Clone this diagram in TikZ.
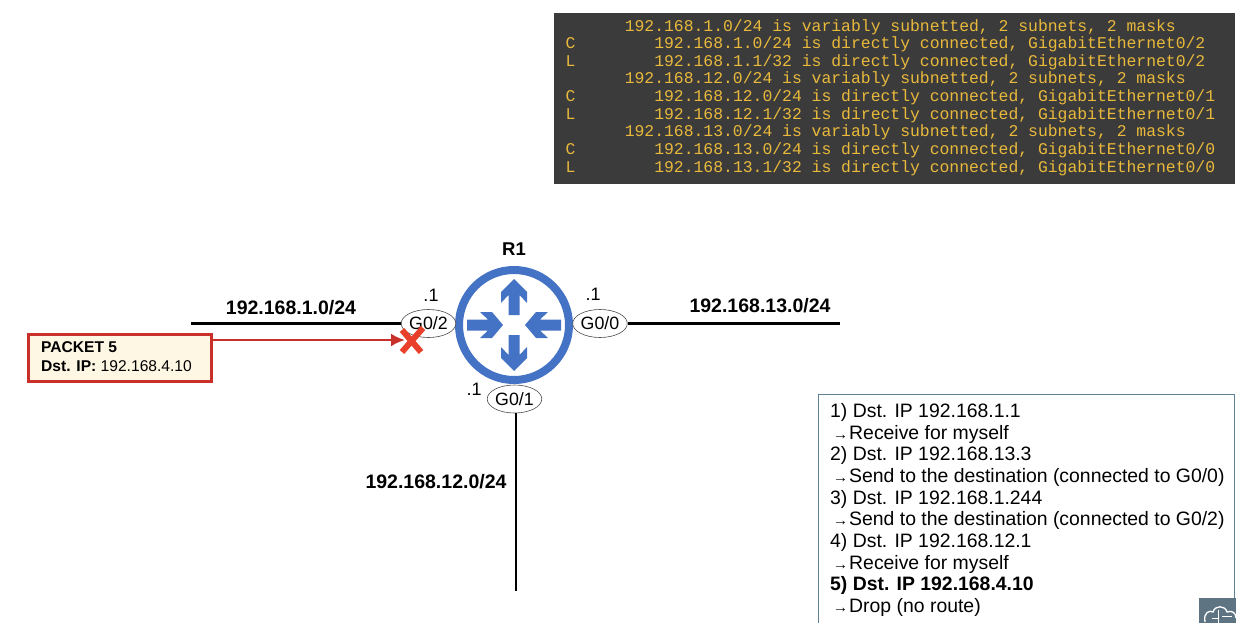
\documentclass[tikz,border=0pt]{standalone}
\usepackage{fontspec}
\setmainfont{Liberation Sans}
\setmonofont{Liberation Mono}
\usepackage{xcolor}
\usetikzlibrary{shapes.geometric,arrows.meta}
\definecolor{routerblue}{HTML}{4472C4}
\definecolor{consolebg}{HTML}{3B3B3B}
\definecolor{consoletext}{HTML}{E9B93C}
\definecolor{packetred}{HTML}{C9302A}
\definecolor{crossred}{HTML}{E8402A}
\definecolor{packetbg}{HTML}{FDF7E3}
\definecolor{noteline}{HTML}{5F7F95}
\definecolor{logobg}{HTML}{5F7482}
\tikzset{
  netlabel/.style={font=\fontsize{19.5}{22}\selectfont\bfseries, inner sep=0pt},
  iplabel/.style={font=\fontsize{18}{20}\selectfont, inner sep=0pt},
  portlabel/.style={ellipse, draw=black!70, line width=0.6pt, fill=white, minimum width=54pt, minimum height=28pt, inner sep=0pt, font=\fontsize{17.8}{20}\selectfont},
  netline/.style={line width=2.1pt, black},
}
\newcommand{\noteto}{\hspace*{3pt}{\fontsize{15}{15}\selectfont →}\hspace*{1pt}}
\begin{document}
\begin{tikzpicture}[x=1pt,y=-1pt]
\clip (0,0) rectangle (1236,623);
\fill[white] (0,0) rectangle (1236,623);
\node (console) at (554,13) [anchor=north west, fill=consolebg, minimum width=681pt, minimum height=171pt, inner sep=0pt] {};
\node (routes) at (565.5,97.4) [anchor=west, inner sep=0pt, align=left, text=consoletext, font=\ttfamily\fontsize{16.4}{17.65}\selectfont] {%
~~~~~~192.168.1.0/24 is variably subnetted, 2 subnets, 2 masks\\
C~~~~~~~~192.168.1.0/24 is directly connected, GigabitEthernet0/2\\
L~~~~~~~~192.168.1.1/32 is directly connected, GigabitEthernet0/2\\
~~~~~~192.168.12.0/24 is variably subnetted, 2 subnets, 2 masks\\
C~~~~~~~~192.168.12.0/24 is directly connected, GigabitEthernet0/1\\
L~~~~~~~~192.168.12.1/32 is directly connected, GigabitEthernet0/1\\
~~~~~~192.168.13.0/24 is variably subnetted, 2 subnets, 2 masks\\
C~~~~~~~~192.168.13.0/24 is directly connected, GigabitEthernet0/0\\
L~~~~~~~~192.168.13.1/32 is directly connected, GigabitEthernet0/0};
\node (router) at (514,325) [circle, draw=routerblue, line width=8pt, fill=white, minimum size=110pt, inner sep=0pt] {};
\foreach \a in {0,180}
  \fill[routerblue, shift={(router.center)}, rotate=\a] (-5.5,-10) -- (-5.5,-30) -- (-13,-22) -- (-13,-33) -- (0,-46) -- (13,-33) -- (13,-22) -- (5.5,-30) -- (5.5,-10) -- cycle;
\foreach \a in {90,270}
  \fill[routerblue, shift={(router.center)}, rotate=\a] (-5.5,-47) -- (-5.5,-26) -- (-13,-34) -- (-13,-22) -- (0,-11) -- (13,-22) -- (13,-34) -- (5.5,-26) -- (5.5,-47) -- cycle;
\node (r1) at (514,249.5) [inner sep=0pt, font=\fontsize{18.5}{20}\selectfont\bfseries] {R1};
\node (g02) at (428.5,323.5) [portlabel] {G0/2};
\node (g00) at (600,323.5) [portlabel] {G0/0};
\node (g01) at (514.5,399) [portlabel] {G0/1};
\node (dot02) at (431,295) [iplabel] {.1};
\node (dot00) at (593,294) [iplabel] {.1};
\node (dot01) at (474,389) [iplabel] {.1};
\coordinate (lan1end) at (191,323.5);
\coordinate (lan13end) at (840,323.5);
\coordinate (lan12end) at (516,591);
\draw[netline] (lan1end) -- (g02.west);
\draw[netline] (g00.east) -- (lan13end);
\draw[netline] (g01.south -| lan12end) -- (lan12end);
\node (lan1) at (291,307.5) [netlabel] {192.168.1.0/24};
\node (lan13) at (760,306) [netlabel] {192.168.13.0/24};
\node (lan12) at (436,481.5) [netlabel] {192.168.12.0/24};
\node (packet) at (27,333) [anchor=north west, draw=packetred, line width=2.6pt, fill=packetbg, minimum width=183pt, minimum height=47pt, inner sep=0pt] {};
\node (packettext) at (41,356.5) [anchor=west, inner sep=0pt, align=left, font=\fontsize{15.6}{18.5}\selectfont] {\textbf{PACKET 5}\\\textbf{Dst. IP:} 192.168.4.10};
\coordinate (crossmark) at (412,340);
\draw[-{Latex[length=14pt,width=13pt]}][packetred][line width=2.6pt] (packet.east |- crossmark) -- ([xshift=-7pt]crossmark);
\draw[crossred][line width=6pt] (402,330) -- (421,352);
\draw[crossred][line width=6pt] (423,328) -- (402,352);
\node (notes) at (818,394) [anchor=north west, draw=noteline, line width=0.8pt, fill=white, minimum width=416pt, minimum height=240pt, inner sep=0pt] {};
\node (notestext) at (830,510) [anchor=west, inner sep=0pt, align=left, font=\fontsize{19.4}{21.67}\selectfont] {%
1) Dst. IP 192.168.1.1\\
\noteto Receive for myself\\
2) Dst. IP 192.168.13.3\\
\noteto Send to the destination (connected to G0/0)\\
3) Dst. IP 192.168.1.244\\
\noteto Send to the destination (connected to G0/2)\\
4) Dst. IP 192.168.12.1\\
\noteto Receive for myself\\
\textbf{5) Dst. IP 192.168.4.10}\\
\noteto Drop (no route)};
\fill[logobg] (1199,598) rectangle (1236,623);
\draw[white][line width=1.3pt] (1205,622) .. controls (1203,612) and (1210,610) .. (1213,612) .. controls (1215,605) and (1225,605) .. (1227,612) .. controls (1232,610) and (1236,613) .. (1236,618);
\draw[white][line width=1pt] (1218,610) -- (1218,623);
\draw[white][line width=1pt] (1212,618) -- (1218,618) (1222,616) -- (1232,616);
\end{tikzpicture}
\end{document}
